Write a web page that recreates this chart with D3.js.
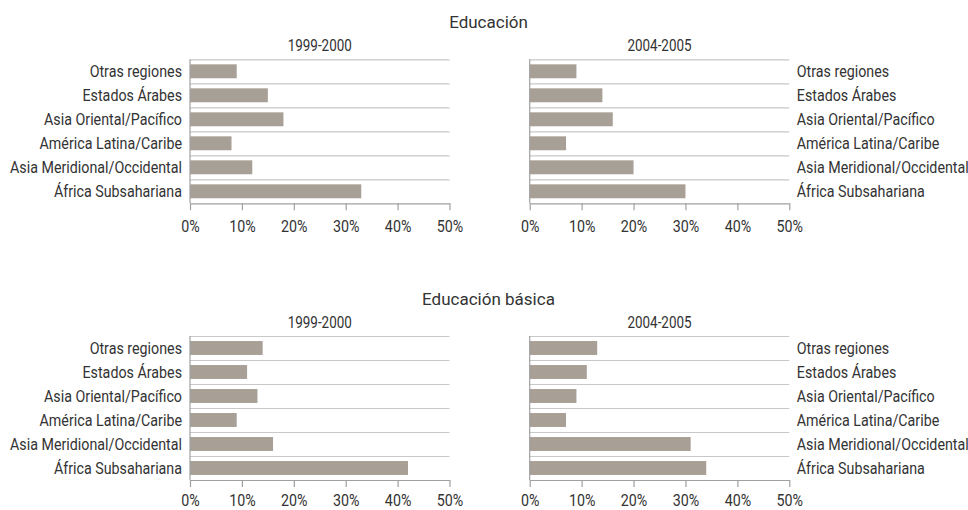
<!DOCTYPE html>
<html>
<head>
<meta charset="utf-8">
<script src="https://cdn.jsdelivr.net/npm/d3@7"></script>
<style>
  html, body { margin: 0; padding: 0; background: #fff; }
  svg { display: block; }
</style>
</head>
<body>
<svg id="chart" width="968" height="510"></svg>
<script>
// ---- Data ----
const categories = ["Otras regiones", "Estados Árabes", "Asia Oriental/Pacífico",
  "América Latina/Caribe", "Asia Meridional/Occidental", "África Subsahariana"];
const sectionTitles = ["Educación", "Educación básica"];
const periodLabels = ["1999-2000", "2004-2005"];
const tickValues = [0, 0.1, 0.2, 0.3, 0.4, 0.5];
const educacion1999 = [9, 15, 18, 8, 12, 33];
const educacion2004 = [9, 14, 16, 7, 20, 30];
const basica1999 = [14, 11, 13, 9, 16, 42];
const basica2004 = [13, 11, 9, 7, 31, 34];

const svg = d3.select("#chart");
const labelFont = "Roboto, 'DejaVu Sans Condensed', sans-serif";
const titleFont = "Roboto, 'Liberation Sans', sans-serif";
const textColor = "#333333";
const barColor = "#a89f96";
const lineColor = "#a0a0a0";
const fs = "17px";

// horizontal compression to imitate the condensed typeface of the original
const probe = svg.append("text").style("font-family", labelFont).style("font-size", fs)
  .text("Asia Meridional/Occidental");
const kx = 172 / probe.node().getComputedTextLength();
probe.remove();

function condensed(sel, x, y, anchor, size) {
  return sel.attr("x", 0).attr("y", 0)
    .attr("transform", `translate(${x},${y}) scale(${kx},1)`)
    .attr("text-anchor", anchor)
    .style("font-family", labelFont).style("font-size", size)
    .style("fill", textColor);
}

const rows = [
  { title: sectionTitles[0], titleY: 27.5, top: 59.3, tickY: 29, series: [educacion1999, educacion2004] },
  { title: sectionTitles[1], titleY: 305, top: 336, tickY: 26.5, series: [basica1999, basica2004] }
];
const cols = [
  { x0: 190, x1: 449.5, labelSide: "left" },
  { x0: 529.7, x1: 789.3, labelSide: "right" }
];
const plotH = 144;

rows.forEach(row => {
  svg.append("text")
    .attr("x", 488.5).attr("y", row.titleY)
    .attr("text-anchor", "middle")
    .style("font-family", titleFont).style("font-size", "17px")
    .style("fill", textColor)
    .text(row.title);

  cols.forEach((col, ci) => {
    const values = row.series[ci];
    const x = d3.scaleLinear().domain([0, 0.5]).range([col.x0, col.x1]);
    const y = d3.scaleBand().domain(categories).range([row.top, row.top + plotH]).paddingInner(0.42).paddingOuter(0.21);
    const yb = d3.scaleBand().domain(categories).range([row.top, row.top + plotH]);
    const g = svg.append("g");

    // period subtitle
    condensed(g.append("text"), (col.x0 + col.x1) / 2, row.top - 8, "middle", "16px")
      .text(periodLabels[ci]);

    // separators (band boundaries incl. top)
    g.selectAll("line.sep").data(categories).enter().append("line")
      .attr("class", "sep")
      .attr("x1", col.x0).attr("x2", col.x1)
      .attr("y1", d => yb(d) + 0.5).attr("y2", d => yb(d) + 0.5)
      .attr("stroke", "#c9c9c9").attr("stroke-width", 1.2);

    // bars
    g.selectAll("rect").data(values).enter().append("rect")
      .attr("x", x(0))
      .attr("y", (d, i) => y(categories[i]))
      .attr("width", d => x(d / 100) - x(0))
      .attr("height", y.bandwidth())
      .attr("fill", barColor);

    // x axis
    const xAxis = g.append("g")
      .attr("transform", `translate(0,${row.top + plotH})`)
      .call(d3.axisBottom(x).tickValues(tickValues).tickFormat(d3.format(".0%")).tickSize(7).tickSizeOuter(0));
    xAxis.select(".domain").attr("stroke", lineColor).attr("stroke-width", 1.2);
    xAxis.selectAll(".tick line").attr("stroke", lineColor).attr("stroke-width", 1.2);
    xAxis.selectAll(".tick text")
      .attr("y", row.tickY).attr("dy", 0)
      .attr("transform", `scale(${kx},1)`)
      .style("font-family", labelFont).style("font-size", fs)
      .style("fill", textColor);

    // vertical axis line at 0
    g.append("line")
      .attr("x1", x(0)).attr("x2", x(0))
      .attr("y1", row.top).attr("y2", row.top + plotH)
      .attr("stroke", lineColor).attr("stroke-width", 1.2);

    // category labels
    const left = col.labelSide === "left";
    g.selectAll("text.cat").data(categories).enter().append("text")
      .attr("class", "cat")
      .each(function(d) {
        condensed(d3.select(this), left ? col.x0 - 8 : col.x1 + 7.5,
          yb(d) + yb.bandwidth() / 2 + 6, left ? "end" : "start", fs);
      })
      .text(d => d);
  });
});
</script>
</body>
</html>
